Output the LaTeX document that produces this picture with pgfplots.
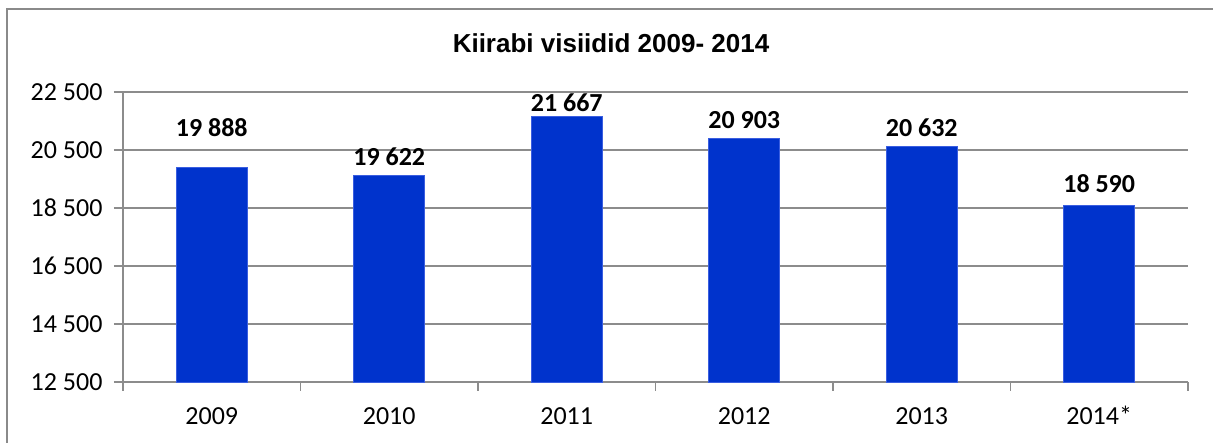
\documentclass[border=0pt]{standalone}
\usepackage{fontspec}
\setmainfont{Carlito}
\newfontfamily\titlefont{Liberation Sans}
\usepackage{pgfplots}
\pgfplotsset{compat=1.18}
\usepackage{pgfplotstable}
\definecolor{barblue}{HTML}{0033CC}
\definecolor{baredge}{HTML}{3A5EE0}
\definecolor{gridgray}{HTML}{8C8C8C}
\definecolor{framegray}{HTML}{8A8A8A}

% year index, visits, label, label lift (pt)
\pgfplotstableread[col sep=comma]{
x,y,lab,off
0,19888,19~888,31
1,19622,19~622,10
2,21667,21~667,5
3,20903,20~903,10
4,20632,20~632,10
5,18590,18~590,13
}\visits

\begin{document}
\begin{tikzpicture}[x=1pt,y=1pt]
\useasboundingbox (0,0) rectangle (1213,443);
\draw[framegray,line width=2pt] (7,-20) -- (7,434) -- (1240,434);
\node[font=\titlefont\bfseries\fontsize{26}{30}\selectfont,anchor=base] at (611,390) {Kiirabi visiidid 2009- 2014};
\begin{axis}[
  at={(123pt,61pt)}, anchor=south west, scale only axis,
  width=1065pt, height=290pt,
  xmin=-0.5, xmax=5.5, ymin=12500, ymax=22500,
  axis x line*=bottom, axis y line*=left,
  axis line style={gridgray, line width=1.5pt},
  ytick={12500,14500,...,22500}, scaled y ticks=false,
  yticklabels={12 500,14 500,16 500,18 500,20 500,22 500},
  xtick={-0.5,0.5,...,5.5}, xticklabels={},
  extra x ticks={0,1,2,3,4,5},
  extra x tick labels={2009,2010,2011,2012,2013,\mbox{2014*}},
  extra x tick style={major tick length=0pt,
    xticklabel style={anchor=base, yshift=-43pt}},
  tick align=outside, major tick length=9pt,
  tick style={gridgray, line width=1.5pt},
  ymajorgrids, grid style={gridgray, line width=1.5pt},
  tick label style={font=\fontsize{26}{30}\selectfont, text=black},
  yticklabel style={xshift=-8pt},
  clip=false,
]
\addplot[ybar, bar width=71pt, fill=barblue, draw=baredge, line width=0.8pt,
  point meta=explicit symbolic,
  visualization depends on={\thisrow{off} \as \myoff},
  nodes near coords,
  every node near coord/.append style={font=\bfseries\fontsize{26}{30}\selectfont,
    anchor=base, yshift=\myoff, inner sep=0pt}]
  table[x=x, y=y, meta=lab] {\visits};
\end{axis}
\end{tikzpicture}
\end{document}
